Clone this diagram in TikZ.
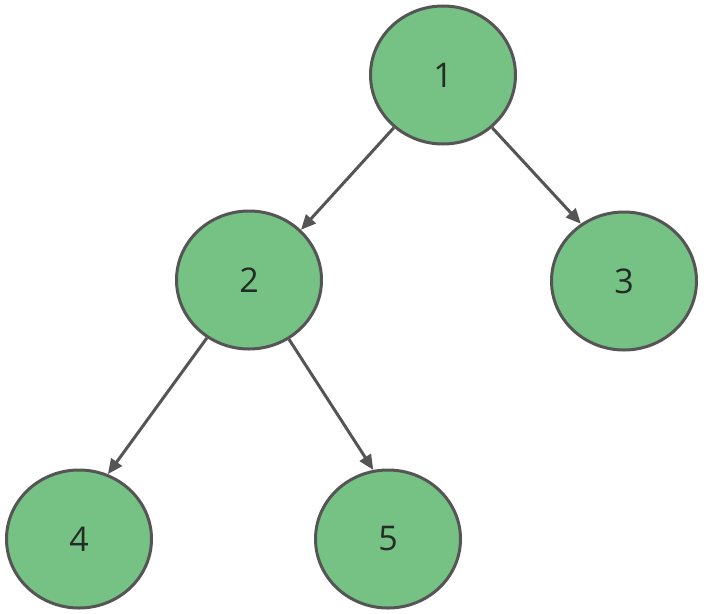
\documentclass[tikz,border=0pt]{standalone}
\usepackage{fontspec}
\setmainfont{Open Sans}
\usetikzlibrary{shapes.geometric,arrows.meta}
\definecolor{nodefill}{RGB}{118,193,132}
\definecolor{edgegray}{RGB}{85,85,85}
\definecolor{txt}{RGB}{35,45,38}
\begin{document}
\begin{tikzpicture}[x=1pt,y=-1pt,
  treenode/.style={ellipse,draw=edgegray,fill=nodefill,line width=3pt,
    minimum width=145pt,minimum height=138pt,inner sep=0pt,
    text=txt,font=\fontsize{34}{40}\selectfont},
  link/.style={draw=edgegray,line width=3pt,-{Triangle[length=15pt,width=13pt]}}]
\useasboundingbox (0,0) rectangle (708,613);
\node[treenode] (n1) at (443,75) {1};
\node[treenode] (n2) at (249,280) {2};
\node[treenode] (n3) at (624,281) {3};
\node[treenode] (n4) at (79,539) {4};
\node[treenode] (n5) at (388,539) {5};
\draw[link] (n1.-133) -- (n2.44);
\draw[link] (n1.-47) -- (n3.127);
\draw[link] (n2.-126) -- (n4.66);
\draw[link] (n2.-56) -- (n5.102);
\end{tikzpicture}
\end{document}
